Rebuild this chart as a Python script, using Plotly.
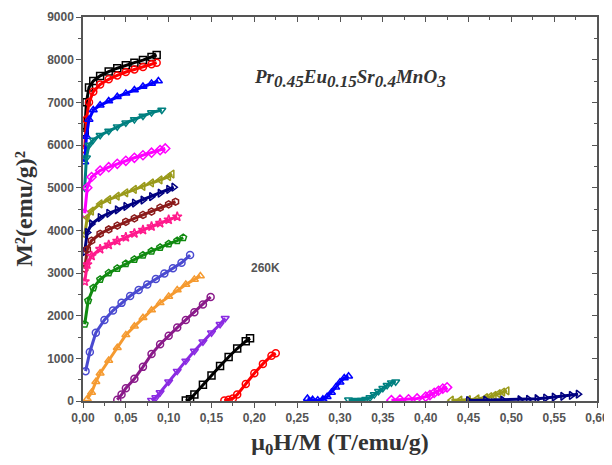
import plotly.graph_objects as go

# ---- data (x = mu0H/M, y = M^2) ----
x01 = [0.002, 0.004, 0.007, 0.012, 0.02, 0.03, 0.04, 0.05, 0.06, 0.07, 0.08, 0.086]
y01 = [6300, 7000, 7350, 7500, 7620, 7720, 7800, 7870, 7930, 7990, 8060, 8110]
x02 = [0.002, 0.004, 0.007, 0.012, 0.02, 0.03, 0.04, 0.05, 0.06, 0.07, 0.08, 0.086]
y02 = [5900, 6600, 7000, 7250, 7420, 7540, 7630, 7710, 7770, 7830, 7890, 7930]
x03 = [0.002, 0.004, 0.007, 0.012, 0.02, 0.03, 0.04, 0.05, 0.06, 0.07, 0.08, 0.088]
y03 = [5600, 6200, 6600, 6820, 6930, 7030, 7130, 7210, 7290, 7370, 7440, 7500]
x04 = [0.002, 0.004, 0.007, 0.012, 0.02, 0.03, 0.04, 0.05, 0.06, 0.07, 0.08, 0.092]
y04 = [5000, 5700, 6000, 6120, 6230, 6330, 6430, 6520, 6600, 6680, 6760, 6820]
x05 = [0.002, 0.005, 0.01, 0.02, 0.03, 0.04, 0.05, 0.06, 0.07, 0.08, 0.09, 0.096]
y05 = [4400, 5000, 5250, 5400, 5480, 5560, 5630, 5700, 5760, 5820, 5880, 5920]
x06 = [0.002, 0.005, 0.01, 0.02, 0.03, 0.04, 0.05, 0.06, 0.07, 0.08, 0.09, 0.1, 0.104]
y06 = [3900, 4300, 4450, 4620, 4720, 4800, 4880, 4960, 5030, 5110, 5180, 5260, 5320]
x07 = [0.002, 0.005, 0.01, 0.02, 0.03, 0.04, 0.05, 0.06, 0.07, 0.08, 0.09, 0.1, 0.106]
y07 = [3500, 3950, 4150, 4300, 4400, 4480, 4560, 4640, 4710, 4790, 4870, 4960, 5010]
x08 = [0.002, 0.005, 0.01, 0.02, 0.03, 0.04, 0.05, 0.06, 0.07, 0.08, 0.09, 0.1, 0.108]
y08 = [3100, 3550, 3760, 3920, 4020, 4110, 4200, 4280, 4360, 4440, 4530, 4610, 4670]
x09 = [0.002, 0.005, 0.01, 0.02, 0.03, 0.04, 0.05, 0.06, 0.07, 0.08, 0.09, 0.1, 0.11]
y09 = [2800, 3200, 3400, 3560, 3660, 3750, 3840, 3930, 4010, 4090, 4170, 4250, 4320]
x10 = [0.002, 0.006, 0.012, 0.02, 0.03, 0.04, 0.05, 0.06, 0.07, 0.08, 0.09, 0.1, 0.11, 0.117]
y10 = [1800, 2350, 2650, 2850, 3000, 3110, 3220, 3320, 3420, 3510, 3600, 3680, 3760, 3830]
x11 = [0.003, 0.008, 0.015, 0.025, 0.035, 0.045, 0.055, 0.065, 0.075, 0.085, 0.095, 0.105, 0.115, 0.125]
y11 = [700, 1150, 1600, 1900, 2120, 2300, 2460, 2600, 2730, 2860, 2990, 3110, 3240, 3420]
x12 = [0.005, 0.01, 0.015, 0.02, 0.03, 0.04, 0.05, 0.06, 0.07, 0.08, 0.09, 0.1, 0.11, 0.12, 0.13, 0.137]
y12 = [50, 200, 450, 650, 950, 1250, 1550, 1750, 1950, 2130, 2300, 2450, 2600, 2730, 2850, 2930]
x13 = [0.04, 0.045, 0.05, 0.06, 0.07, 0.08, 0.09, 0.1, 0.11, 0.12, 0.13, 0.14, 0.149]
y13 = [30, 150, 300, 520, 800, 1100, 1330, 1530, 1720, 1900, 2080, 2260, 2440]
x14 = [0.08, 0.085, 0.09, 0.1, 0.11, 0.12, 0.13, 0.14, 0.15, 0.16, 0.166]
y14 = [20, 80, 200, 450, 700, 940, 1170, 1390, 1600, 1800, 1940]
x15 = [0.12, 0.125, 0.13, 0.14, 0.15, 0.16, 0.17, 0.18, 0.19, 0.195]
y15 = [10, 40, 150, 380, 600, 820, 1030, 1230, 1400, 1470]
x16 = [0.165, 0.17, 0.175, 0.18, 0.19, 0.2, 0.21, 0.22, 0.225]
y16 = [10, 30, 60, 150, 400, 650, 870, 1060, 1120]
x17 = [0.262, 0.268, 0.274, 0.28, 0.285, 0.29, 0.295, 0.3, 0.305, 0.31]
y17 = [60, 30, 20, 40, 100, 200, 320, 440, 540, 580]
x18 = [0.31, 0.32, 0.325, 0.33, 0.335, 0.34, 0.345, 0.35, 0.355, 0.36, 0.365]
y18 = [30, 20, 20, 40, 80, 150, 230, 300, 370, 430, 450]
x19 = [0.36, 0.37, 0.38, 0.39, 0.4, 0.405, 0.41, 0.415, 0.42, 0.425]
y19 = [20, 30, 40, 60, 100, 140, 190, 240, 290, 320]
x20 = [0.43, 0.44, 0.45, 0.46, 0.47, 0.475, 0.48, 0.485, 0.49, 0.495]
y20 = [20, 20, 30, 50, 80, 100, 130, 170, 210, 240]
x21 = [0.45, 0.47, 0.49, 0.51, 0.52, 0.53, 0.54, 0.55, 0.56, 0.57, 0.578]
y21 = [10, 20, 20, 30, 40, 55, 70, 90, 110, 130, 160]

series_x = [x01, x02, x03, x04, x05, x06, x07, x08, x09, x10, x11,
            x12, x13, x14, x15, x16, x17, x18, x19, x20, x21]
series_y = [y01, y02, y03, y04, y05, y06, y07, y08, y09, y10, y11,
            y12, y13, y14, y15, y16, y17, y18, y19, y20, y21]
colors = ["#000000", "#ff0000", "#0000ff", "#008080", "#ff00ff", "#9a9a1a",
          "#000080", "#8b1a1a", "#ff1a8c", "#108a10", "#4a4ad0", "#f59a30",
          "#8a1a8a", "#8a2be2", "#000000", "#ff0000", "#0000ff", "#008080",
          "#ff00ff", "#9a9a1a", "#000080"]
symbols = ["square-open", "circle-open", "triangle-up-open", "triangle-down-open",
           "diamond-open", "triangle-left-open", "triangle-right-open", "hexagon-open",
           "star-open", "pentagon-open", "circle-open", "triangle-up-open",
           "circle-open", "triangle-down-open", "square-open", "circle-open",
           "triangle-up-open", "triangle-down-open", "diamond-open",
           "triangle-left-open", "triangle-right-open"]

x_tickvals = [0, 0.05, 0.1, 0.15, 0.2, 0.25, 0.3, 0.35, 0.4, 0.45, 0.5, 0.55, 0.6]
x_ticktext = ["0,00", "0,05", "0,10", "0,15", "0,20", "0,25", "0,30",
              "0,35", "0,40", "0,45", "0,50", "0,55", "0,60"]
y_tickvals = [0, 1000, 2000, 3000, 4000, 5000, 6000, 7000, 8000, 9000]

fig = go.Figure()
for xs, ys, c, s in zip(series_x, series_y, colors, symbols):
    fig.add_trace(go.Scatter(
        x=xs, y=ys, mode="lines+markers",
        line=dict(color=c, width=3),
        marker=dict(symbol=s, size=7, color=c, line=dict(color=c, width=1.5)),
        showlegend=False, hoverinfo="skip"))

# dummy trace for the mirrored (top/right) axes
fig.add_trace(go.Scatter(x=[None], y=[None], xaxis="x2", yaxis="y2",
                         showlegend=False, hoverinfo="skip"))

axis_col = "#555555"
tick_font = dict(family="Liberation Sans", size=12, color="#555555", weight="bold")
fig.update_layout(
    width=604, height=457,
    margin=dict(l=75, r=15, t=9, b=64),
    plot_bgcolor="white", paper_bgcolor="white",
    xaxis=dict(range=[0, 0.6], tickvals=x_tickvals, ticktext=x_ticktext,
               automargin=False,
               ticks="outside", ticklen=5, tickwidth=1.2, tickcolor=axis_col,
               minor=dict(dtick=0.025, tick0=0, ticks="outside", ticklen=3, tickcolor=axis_col),
               showline=True, linecolor=axis_col, linewidth=1.5,
               showgrid=False, zeroline=False,
               tickfont=tick_font,
               title=dict(text="<b>μ<sub>0</sub>H/M (T/emu/g)</b>",
                          font=dict(family="Liberation Serif", size=24, color="#333333"),
                          standoff=9)),
    yaxis=dict(range=[0, 9000], tickvals=y_tickvals,
               automargin=False,
               ticks="outside", ticklen=5, tickwidth=1.2, tickcolor=axis_col,
               minor=dict(dtick=500, tick0=0, ticks="outside", ticklen=3, tickcolor=axis_col),
               showline=True, linecolor=axis_col, linewidth=1.5,
               showgrid=False, zeroline=False,
               tickfont=tick_font,
               title=dict(text="<b>M²(emu/g)²</b>",
                          font=dict(family="Liberation Serif", size=24, color="#333333"),
                          standoff=8)),
    xaxis2=dict(overlaying="x", side="top", range=[0, 0.6], tickvals=x_tickvals,
                automargin=False,
                showticklabels=False, ticks="inside", ticklen=5, tickcolor=axis_col,
                minor=dict(dtick=0.025, tick0=0, ticks="inside", ticklen=3, tickcolor=axis_col),
                showline=True, linecolor=axis_col, linewidth=1.5,
                showgrid=False, zeroline=False),
    yaxis2=dict(overlaying="y", side="right", range=[0, 9000], tickvals=y_tickvals,
                automargin=False,
                showticklabels=False, ticks="inside", ticklen=5, tickcolor=axis_col,
                minor=dict(dtick=500, tick0=0, ticks="inside", ticklen=3, tickcolor=axis_col),
                showline=True, linecolor=axis_col, linewidth=1.5,
                showgrid=False, zeroline=False),
)

fig.add_annotation(x=0.213, y=3120, text="<b>260K</b>", showarrow=False,
                   font=dict(family="Liberation Sans", size=12, color="#555555"))
fig.add_annotation(
    x=0.312, y=7570,
    text=("<b><i>Pr<sub><span style='font-size:17px'>0.45</span></sub>"
          "Eu<sub><span style='font-size:17px'>0.15</span></sub>"
          "Sr<sub><span style='font-size:17px'>0.4</span></sub>"
          "MnO<sub><span style='font-size:17px'>3</span></sub></i></b>"),
    showarrow=False,
    font=dict(family="Liberation Serif", size=19, color="#333333"))

fig.write_html("out.html")
